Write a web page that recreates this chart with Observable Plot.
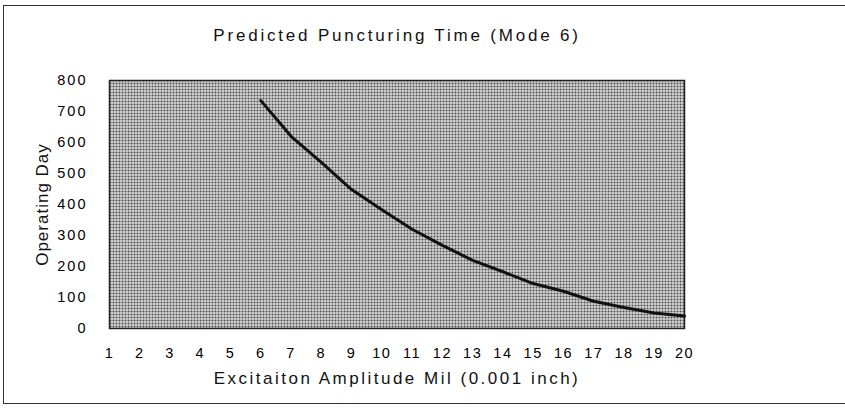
<!DOCTYPE html>
<html>
<head>
<meta charset="utf-8">
<script src="https://cdn.jsdelivr.net/npm/d3@7"></script>
<script src="https://cdn.jsdelivr.net/npm/@observablehq/plot@0.6"></script>
<style>
  html, body { margin: 0; padding: 0; background: #fff; }
  body { width: 845px; height: 410px; position: relative; overflow: hidden; font-family: "Liberation Sans", Arial, sans-serif; }
  #frame { position: absolute; left: 3px; top: 5px; width: 900px; height: 397px; border: 1.5px solid #333; border-right: none; }
  #chart { position: absolute; left: 0; top: 0; }
</style>
</head>
<body>
<div id="frame"></div>
<div id="chart"></div>
<script>
const chartTitle = "Predicted Puncturing Time (Mode 6)";
const xTitle = "Excitaiton Amplitude Mil (0.001 inch)";
const yTitle = "Operating Day";
const xTicks = [1,2,3,4,5,6,7,8,9,10,11,12,13,14,15,16,17,18,19,20];
const yTicks = [0,100,200,300,400,500,600,700,800];
const amplitude = [6,7,8,9,10,11,12,13,14,15,16,17,18,19,20];
const operatingDay = [735,620,536,448,383,320,268,220,183,145,120,88,68,50,40];

const data = amplitude.map((a, i) => ({a, d: operatingDay[i]}));

const plot = Plot.plot({
  width: 845,
  height: 410,
  marginLeft: 109,
  marginRight: 161,
  marginTop: 80,
  marginBottom: 82,
  style: {fontFamily: "'Liberation Sans', Arial, sans-serif", background: "transparent"},
  x: {domain: [1, 20]},
  y: {domain: [0, 800]},
  marks: [
    Plot.frame({fill: "url(#halftone)", stroke: "#222", strokeWidth: 1.5}),
    Plot.line(data, {x: "a", y: "d", stroke: "#111", strokeWidth: 3}),
    Plot.axisX({ticks: xTicks, tickSize: 0, tickPadding: 19, fontSize: 14.5, label: null, tickFormat: d => d}),
    Plot.axisY({ticks: yTicks, tickSize: 0, tickPadding: 22, fontSize: 14.5, label: null, tickFormat: d => d}),
    Plot.text([chartTitle], {frameAnchor: "top", dy: -52, fontSize: 17, fill: "#111", text: d => d}),
    Plot.text([xTitle], {frameAnchor: "bottom", dy: 55, fontSize: 17, fill: "#111", text: d => d}),
    Plot.text([yTitle], {frameAnchor: "left", dx: -67, rotate: -90, textAnchor: "middle", fontSize: 17, fill: "#111", text: d => d})
  ]
});

const ns = "http://www.w3.org/2000/svg";
const defs = document.createElementNS(ns, "defs");
const pat = document.createElementNS(ns, "pattern");
pat.setAttribute("id", "halftone");
pat.setAttribute("patternUnits", "userSpaceOnUse");
pat.setAttribute("width", "3");
pat.setAttribute("height", "3");
const bg = document.createElementNS(ns, "rect");
bg.setAttribute("width", "3"); bg.setAttribute("height", "3"); bg.setAttribute("fill", "#f0f0f0");
const sq = document.createElementNS(ns, "rect");
sq.setAttribute("x", "1"); sq.setAttribute("y", "1");
sq.setAttribute("width", "2"); sq.setAttribute("height", "2"); sq.setAttribute("fill", "#4a4a4a");
pat.appendChild(bg); pat.appendChild(sq);
defs.appendChild(pat);
plot.insertBefore(defs, plot.firstChild);

plot.querySelectorAll("[aria-label^=x-axis] text").forEach(t => t.setAttribute("letter-spacing", "1.5"));
plot.querySelectorAll("[aria-label^=y-axis] text").forEach(t => t.setAttribute("letter-spacing", "2"));
const labels = plot.querySelectorAll("[aria-label=text] text");
labels[0].setAttribute("letter-spacing", "2.8");
labels[1].setAttribute("letter-spacing", "2.5");
labels[2].setAttribute("letter-spacing", "1");

document.getElementById("chart").appendChild(plot);
</script>
</body>
</html>
